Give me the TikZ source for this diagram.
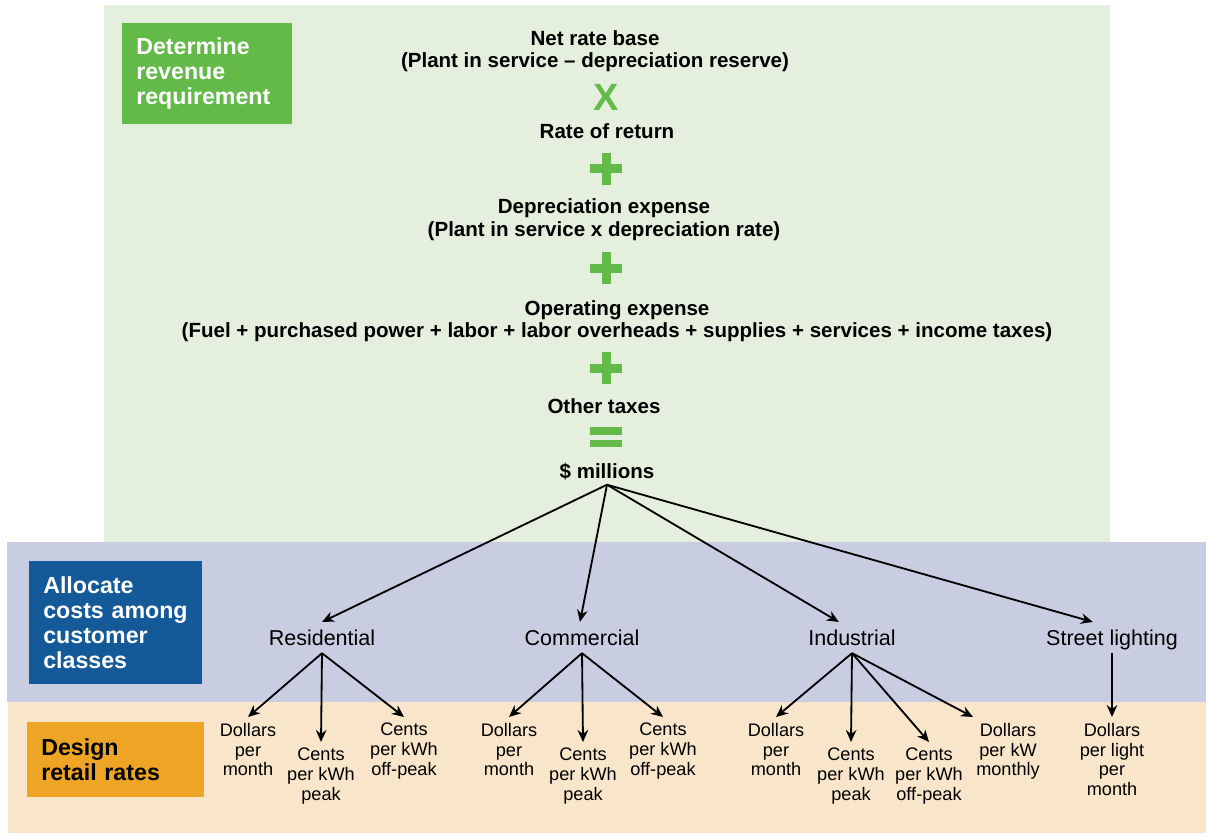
\documentclass[tikz,border=0pt]{standalone}
\usepackage{fontspec}
\setmainfont{Liberation Sans}
\usepackage{xcolor}
\usepackage{tikz}
\usetikzlibrary{arrows.meta}
\definecolor{reqbgcolor}{HTML}{E4F0DD}
\definecolor{reqcolor}{HTML}{63BA48}
\definecolor{allocbgcolor}{HTML}{C9CDE1}
\definecolor{alloccolor}{HTML}{145A98}
\definecolor{designbgcolor}{HTML}{F8E5CA}
\definecolor{designcolor}{HTML}{EEA525}
\tikzset{%
stagebox/.style={rectangle, inner sep=0pt, anchor=north west, align=left, font=\fontsize{16.5pt}{17.7pt}\selectfont\bfseries},%
termlabel/.style={anchor=base, inner sep=0pt, font=\fontsize{14.6pt}{15.6pt}\selectfont\bfseries},%
optimes/.style={anchor=base, inner sep=0pt, text=reqcolor, font=\fontsize{27pt}{27pt}\selectfont\bfseries},%
opbar/.style={reqcolor, line width=6.4pt},%
classlabel/.style={anchor=base, inner sep=5.6pt, text height=10.6pt, text depth=0pt, font=\fontsize{15.3pt}{17pt}\selectfont},%
ratelabel/.style={anchor=north, inner sep=4pt, align=center, font=\fontsize{12.9pt}{14.2pt}\selectfont},%
flow/.style={-{Stealth[length=8.5pt, width=7.5pt]}, line width=1.3pt, black},%
}

\begin{document}
\begin{tikzpicture}[x=0.025cm, y=-0.025cm]%
\useasboundingbox (0, 0) rectangle (1208, 834);%
\fill[reqbgcolor] (104, 5) rectangle (1110, 542);%
\fill[allocbgcolor] (7, 542) rectangle (1206, 702);%
\fill[designbgcolor] (8, 702) rectangle (1206, 833);%
\node[stagebox, fill=reqcolor, text=white, minimum width=4.25cm, minimum height=2.525cm, text width=3.55cm] (reqbox) at (122, 23) {Determine\\revenue\\requirement};%
\node[stagebox, fill=alloccolor, text=white, minimum width=4.325cm, minimum height=3.075cm, text width=3.625cm] (allocbox) at (29, 561) {Allocate\\costs among\\customer\\classes};%
\node[stagebox, fill=designcolor, text=black, minimum width=4.425cm, minimum height=1.875cm, text width=3.725cm] (designbox) at (27, 722) {Design\\retail rates};%
\node[termlabel] (base) at (595, 46) {Net rate base};%
\node[termlabel] (basedef) at (595, 68) {(Plant in service \textendash{} depreciation reserve)};%
\node[optimes] (times) at (606, 111) {X};%
\node[termlabel] (ror) at (607, 139) {Rate of return};%
\draw[opbar] (590, 169) -- (622, 169) (606, 153) -- (606, 185);%
\node[termlabel] (depr) at (604, 214) {Depreciation expense};%
\node[termlabel] (deprdef) at (604, 236) {(Plant in service x depreciation rate)};%
\draw[opbar] (590, 268) -- (622, 268) (606, 252) -- (606, 284);%
\node[termlabel] (opex) at (617, 315) {Operating expense};%
\node[termlabel] (opexdef) at (617, 337) {(Fuel + purchased power + labor + labor overheads + supplies + services + income taxes)};%
\draw[opbar] (590, 368) -- (622, 368) (606, 352) -- (606, 384);%
\node[termlabel] (taxes) at (604, 413) {Other taxes};%
\draw[opbar, line width=5.2pt] (590, 431) -- (622, 431) (590, 443.5) -- (622, 443.5);%
\node[termlabel, inner sep=3.5pt] (total) at (607, 478) {\$ millions};%
\node[classlabel] (res) at (322, 645) {Residential};%
\node[classlabel] (com) at (582, 645) {Commercial};%
\node[classlabel] (ind) at (852, 645) {Industrial};%
\node[classlabel] (street) at (1112, 645) {Street lighting};%
\node[ratelabel] (resmonth) at (248, 717) {Dollars\\per\\month};%
\node[ratelabel] (respeak) at (321, 742) {Cents\\per kWh\\peak};%
\node[ratelabel] (resoff) at (404, 717) {Cents\\per kWh\\off-peak};%
\node[ratelabel] (commonth) at (509, 717) {Dollars\\per\\month};%
\node[ratelabel] (compeak) at (583, 742) {Cents\\per kWh\\peak};%
\node[ratelabel] (comoff) at (663, 717) {Cents\\per kWh\\off-peak};%
\node[ratelabel] (indmonth) at (776, 717) {Dollars\\per\\month};%
\node[ratelabel] (indpeak) at (851, 742) {Cents\\per kWh\\peak};%
\node[ratelabel] (indoff) at (929, 742) {Cents\\per kWh\\off-peak};%
\node[ratelabel] (indkw) at (1008, 717) {Dollars\\per kW\\monthly};%
\node[ratelabel] (streetmonth) at (1112, 717) {Dollars\\per light\\per\\month};%
\draw[flow] (total.south) -- (res.north);%
\draw[flow] (total.south) -- ([xshift=-0.05cm]com.north);%
\draw[flow] (total.south) -- ([xshift=-0.33cm]ind.north);%
\draw[flow] (total.south) -- ([xshift=-0.48cm]street.north);%
\draw[flow] (res.south) -- (resmonth.north);%
\draw[flow] (res.south) -- (respeak.north);%
\draw[flow] (res.south) -- (resoff.north);%
\draw[flow] (com.south) -- (commonth.north);%
\draw[flow] (com.south) -- (compeak.north);%
\draw[flow] (com.south) -- (comoff.north);%
\draw[flow] (ind.south) -- (indmonth.north);%
\draw[flow] (ind.south) -- (indpeak.north);%
\draw[flow] (ind.south) -- (indoff.north);%
\draw[flow] (ind.south) -- ([xshift=-0.875cm]indkw.north);%
\draw[flow] (street.south) -- (streetmonth.north);%
\end{tikzpicture}
\end{document}
